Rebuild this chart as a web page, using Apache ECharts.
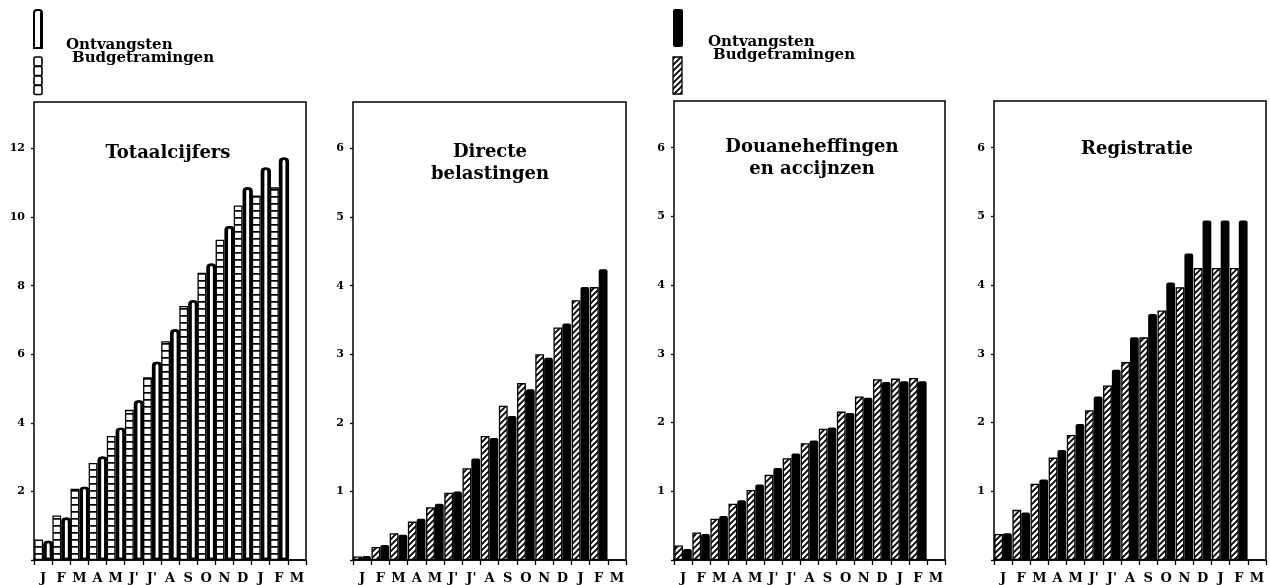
<!DOCTYPE html>
<html><head><meta charset="utf-8">
<script src="https://cdn.jsdelivr.net/npm/echarts@6/dist/echarts.min.js"></script>
<style>html,body{margin:0;padding:0;background:#fff}#c{width:1270px;height:585px}</style>
</head><body><div id="c"></div>
<script>
const months = ['J','F','M','A','M',"J'","J'",'A','S','O','N','D','J','F','M'];
const panelTitles = ['Totaalcijfers','Directe\nbelastingen','Douaneheffingen\nen accijnzen','Registratie'];
const legendLabels = ['Ontvangsten','Budgetramingen'];
const yTicksTotal = [2,4,6,8,10,12];
const yTicksParts = [1,2,3,4,5,6];

const totBudget   = [0.60,1.30,2.08,2.83,3.62,4.38,5.33,6.38,7.41,8.38,9.34,10.34,10.63,10.87];
const totReceipts = [0.56,1.24,2.14,3.02,3.86,4.66,5.78,6.73,7.58,8.65,9.74,10.87,11.45,11.74];
const dirBudget   = [0.05,0.19,0.39,0.56,0.77,0.98,1.34,1.81,2.25,2.58,3.00,3.39,3.79,3.98];
const dirReceipts = [0.06,0.22,0.37,0.60,0.82,1.00,1.48,1.78,2.10,2.49,2.95,3.45,3.98,4.24];
const douBudget   = [0.21,0.40,0.60,0.82,1.02,1.24,1.48,1.70,1.91,2.16,2.38,2.63,2.64,2.65];
const douReceipts = [0.16,0.38,0.64,0.87,1.10,1.34,1.55,1.74,1.93,2.14,2.36,2.59,2.60,2.60];
const regBudget   = [0.38,0.73,1.11,1.49,1.82,2.18,2.54,2.88,3.24,3.63,3.97,4.25,4.25,4.25];
const regReceipts = [0.39,0.69,1.17,1.60,1.98,2.38,2.77,3.24,3.58,4.04,4.46,4.94,4.94,4.94];

function hatchCanvas(){
  const c=document.createElement('canvas'); c.width=6; c.height=6;
  const g=c.getContext('2d'); g.fillStyle='#fff'; g.fillRect(0,0,6,6);
  g.strokeStyle='#000'; g.lineWidth=1.8;
  g.beginPath(); g.moveTo(-1,7); g.lineTo(7,-1); g.moveTo(-2,2); g.lineTo(2,-2); g.moveTo(4,8); g.lineTo(8,4); g.stroke();
  return c;
}
function boxCanvas(){
  const c=document.createElement('canvas'); c.width=8; c.height=7;
  const g=c.getContext('2d'); g.fillStyle='#fff'; g.fillRect(0,0,8,7);
  g.fillStyle='#000'; g.fillRect(0,0,8,1.7);
  return c;
}
const hatch={image:hatchCanvas(),repeat:'repeat'};
const boxes={image:boxCanvas(),repeat:'repeat'};

const F="'DejaVu Serif', serif";
const grids=[
  {left:34,right:1270-306,top:102,bottom:23},
  {left:353,right:1270-626,top:102,bottom:23},
  {left:674,right:1270-945,top:101,bottom:24},
  {left:994,right:1270-1266,top:101,bottom:25}
];
const maxes=[13.36,6.68,6.68,6.68];
const intervals=[2,1,1,1];
const tickSets=[yTicksTotal,yTicksParts,yTicksParts,yTicksParts];
const budgets=[totBudget,dirBudget,douBudget,regBudget];
const receipts=[totReceipts,dirReceipts,douReceipts,regReceipts];
const titlePos=[[168,142],[490,141],[812,136],[1137,138]];

const option={
  backgroundColor:'#fff',
  animation:false,
  title:panelTitles.map((t,i)=>({text:t,left:titlePos[i][0],top:titlePos[i][1],textAlign:'center',padding:0,
    textStyle:{fontFamily:F,fontWeight:'bold',fontSize:18,lineHeight:22,color:'#000'}})),
  grid:grids.map(g=>Object.assign({show:true,borderColor:'#000',borderWidth:1.5,backgroundColor:'transparent'},g)),
  xAxis:grids.map((g,i)=>({type:'category',gridIndex:i,data:months,
    axisLine:{show:true,lineStyle:{color:'#000',width:1.5}},
    axisTick:{show:true,length:5,lineStyle:{color:'#000',width:1.3}},
    axisLabel:{interval:0,margin:12,color:'#000',fontFamily:F,fontWeight:'bold',fontSize:13}})),
  yAxis:grids.map((g,i)=>({type:'value',gridIndex:i,min:0,max:maxes[i],interval:intervals[i],
    splitLine:{show:false},axisLine:{show:false},
    axisTick:{show:true,length:3,lineStyle:{color:'#000',width:1.3}},
    axisLabel:{margin:9,color:'#000',fontFamily:F,fontWeight:'bold',fontSize:11,showMaxLabel:false,
      formatter:v=>tickSets[i].indexOf(v)>=0?String(v):''}})),
  series:[],
  graphic:[
    {type:'rect',shape:{x:34,y:10,width:8,height:38,r:[3,3,0,0]},style:{fill:'#fff',stroke:'#000',lineWidth:2}},
    {type:'rect',shape:{x:40,y:11,width:3,height:37,r:[2,2,0,0]},style:{fill:'#000'}},
    {type:'rect',shape:{x:34,y:57,width:8,height:9,r:1.5},style:{fill:'#fff',stroke:'#000',lineWidth:1.6}},
    {type:'rect',shape:{x:34,y:66.5,width:8,height:9,r:1.5},style:{fill:'#fff',stroke:'#000',lineWidth:1.6}},
    {type:'rect',shape:{x:34,y:76,width:8,height:9,r:1.5},style:{fill:'#fff',stroke:'#000',lineWidth:1.6}},
    {type:'rect',shape:{x:34,y:85.5,width:8,height:9,r:1.5},style:{fill:'#fff',stroke:'#000',lineWidth:1.6}},
    {type:'text',x:66,y:45,style:{text:legendLabels[0],font:"bold 15px 'DejaVu Serif'",fill:'#000',verticalAlign:'middle'}},
    {type:'text',x:72,y:58,style:{text:legendLabels[1],font:"bold 15px 'DejaVu Serif'",fill:'#000',verticalAlign:'middle'}},
    {type:'rect',shape:{x:673,y:9,width:10,height:38,r:2},style:{fill:'#000'}},
    {type:'rect',shape:{x:673,y:57,width:9,height:37},style:{fill:{type:'pattern',image:hatchCanvas(),repeat:'repeat'},stroke:'#000',lineWidth:1.3}},
    {type:'text',x:708,y:42,style:{text:legendLabels[0],font:"bold 15px 'DejaVu Serif'",fill:'#000',verticalAlign:'middle'}},
    {type:'text',x:713,y:55,style:{text:legendLabels[1],font:"bold 15px 'DejaVu Serif'",fill:'#000',verticalAlign:'middle'}}
  ]
};
for(let i=0;i<4;i++){
  option.series.push({name:legendLabels[1],type:'bar',xAxisIndex:i,yAxisIndex:i,data:budgets[i],
    barGap:'0%',barCategoryGap:'3%',
    itemStyle:{color:i===0?boxes:hatch,borderColor:'#000',borderWidth:1.3}});
  option.series.push({name:legendLabels[0],type:'bar',xAxisIndex:i,yAxisIndex:i,data:receipts[i],
    barGap:'0%',barCategoryGap:'3%',
    itemStyle:i===0?{color:'#fff',borderColor:'#000',borderWidth:2.2,borderRadius:[3,3,0,0],shadowColor:'#000',shadowOffsetX:1.5,shadowBlur:0}
                   :{color:'#000',borderRadius:[2,2,0,0]}});
}
const chart=echarts.init(document.getElementById('c'),null,{renderer:'canvas'});
chart.setOption(option);
</script></body></html>
